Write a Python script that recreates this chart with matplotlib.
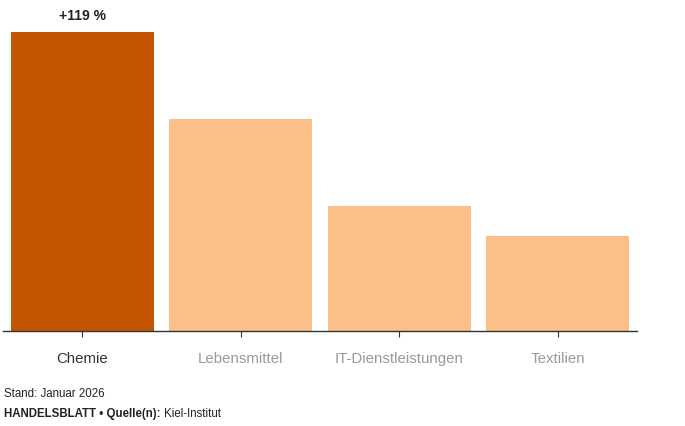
import matplotlib
matplotlib.use("Agg")
import matplotlib.pyplot as plt

# Données
branchen = ["Chemie", "Lebensmittel", "IT-Dienstleistungen", "Textilien"]
werte = [119, 84, 49.5, 37.5]
farben = ["#C45500", "#FBBF88", "#FBBF88", "#FBBF88"]
label_farben = ["#333333", "#999999", "#999999", "#999999"]

plt.rcParams['font.family'] = ['Liberation Sans', 'DejaVu Sans']

fig = plt.figure(figsize=(6.85, 4.27), dpi=100)
ax = fig.add_axes([3 / 685, (427 - 331.5) / 427, 634 / 685, 321 / 427])

x = range(len(branchen))
ax.bar(x, werte, width=0.9, color=farben)
ax.set_xlim(-0.5, len(branchen) - 0.5)
ax.set_ylim(0, werte[0] * 321 / 299)

# Nur die Grundlinie
for s in ["top", "right", "left"]:
    ax.spines[s].set_visible(False)
ax.spines["bottom"].set_color("#333333")
ax.spines["bottom"].set_linewidth(1)
ax.set_yticks([])
ax.set_xticks(list(x))
ax.set_xticklabels(branchen, fontsize=10.8)
ax.tick_params(axis="x", length=4, color="#333333", pad=11)
for lbl, c in zip(ax.get_xticklabels(), label_farben):
    lbl.set_color(c)

# Wert über dem ersten Balken
ax.annotate(f"+{werte[0]} %", (0, werte[0]), xytext=(0, 7), textcoords="offset points",
            ha="center", va="bottom", fontsize=10, fontweight="bold", color="#222222")

fig.text(4 / 685, 1 - 394 / 427, "Stand: Januar 2026", fontsize=8.3, color="#222222", va="center")
t = fig.text(4 / 685, 1 - 414 / 427, "HANDELSBLATT • Quelle(n): ", fontsize=8.3,
             fontweight="bold", color="#222222", va="center")
fig.canvas.draw()
bb = t.get_window_extent()
fig.text(bb.x1 / 685, 1 - 414 / 427, "Kiel-Institut", fontsize=8.3, color="#222222", va="center")

fig.savefig("out.png", dpi=100)
